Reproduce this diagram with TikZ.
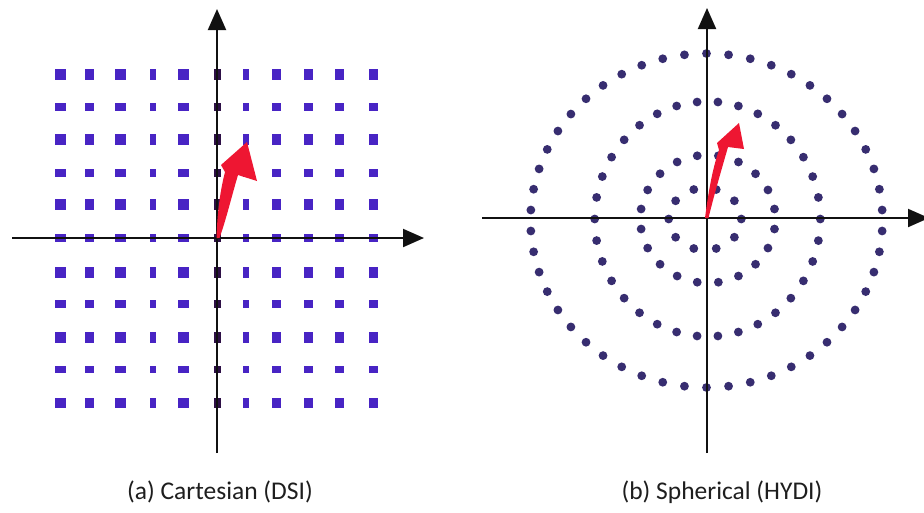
\documentclass[tikz,border=0pt]{standalone}
\usepackage{fontspec}
\setmainfont{Carlito}
\usetikzlibrary{arrows.meta}
\definecolor{gridblue}{RGB}{72,36,196}
\definecolor{griddark}{RGB}{45,15,70}
\definecolor{ringblue}{RGB}{55,45,112}
\definecolor{vecred}{RGB}{238,22,50}
\definecolor{axisblack}{RGB}{17,17,17}
\definecolor{captiongray}{RGB}{30,30,30}
\tikzset{
  axisline/.style={line width=2pt, draw=axisblack, -{Triangle[length=21pt,width=18pt]}},
  ringdot/.style={fill=ringblue},
  vector/.style={fill=vecred, draw=none},
  caption/.style={font=\fontsize{25.5}{30}\selectfont, text=captiongray, inner sep=0pt}
}
\begin{document}
\begin{tikzpicture}[x=1pt,y=-1pt]
\useasboundingbox (0,0) rectangle (924,512);
\fill[white] (0,0) rectangle (924,512);
% ---------- (a) Cartesian grid ----------
\foreach \cx/\w in {60/11, 89/9, 120/11, 153/6, 183/11, 246/6, 276/9, 308/9, 339/9, 373/9}{
  \foreach \cy/\h in {74/11, 107/8, 139/11, 173/8, 204/11, 238/8, 272/11, 304/8, 337/11, 369/7, 403/10}{
    \fill[gridblue] (\cx-\w/2,\cy-\h/2) rectangle (\cx+\w/2,\cy+\h/2);
  }
}
\foreach \cy/\h in {74/11, 107/8, 139/11, 173/8, 204/11, 238/8, 272/11, 304/8, 337/11, 369/7, 403/10}{
  \fill[griddark] (217-3.5,\cy-\h/2) rectangle (217+3.5,\cy+\h/2);
}
\coordinate (aO) at (217,238);
\coordinate (aL) at (12,238);
\coordinate (aR) at (424,238);
\coordinate (aB) at (217,453);
\coordinate (aT) at (217,9);
\draw[axisline] (aL) -- (aR);
\draw[axisline] (aB) -- (aT);
\fill[vector] (216.5,238) .. controls (217,220) and (219,195) .. (225,172)
  -- (221,165) -- (247,142) -- (257,181) -- (238,175)
  .. controls (232,195) and (226,220) .. (219.5,238) -- cycle;
\node[caption] (capa) at (220,492) {(a) Cartesian (DSI)};
% ---------- (b) Spherical shells ----------
\foreach \a in {0,...,49}{
  \fill[ringdot] ({706.5+176*cos(90+7.2*\a)},{220.5-167*sin(90+7.2*\a)}) circle (4.4);
}
\foreach \a in {0,...,33}{
  \fill[ringdot] ({707.5+112.8*cos(84.7+360/34*\a)},{219-117.5*sin(84.7+360/34*\a)}) circle (4.4);
}
\foreach \a in {0,...,19}{
  \fill[ringdot] ({707.8+67.5*cos(9+18*\a)},{219-64*sin(9+18*\a)}) circle (4.4);
}
\foreach \a in {0,...,9}{
  \fill[ringdot] ({705+36.3*cos(36*\a)},{219-31*sin(36*\a)}) circle (4.4);
}
\coordinate (bO) at (707,218);
\coordinate (bL) at (482,218);
\coordinate (bR) at (929,218);
\coordinate (bB) at (707,453);
\coordinate (bT) at (707,8);
\draw[axisline] (bL) -- (bR);
\draw[axisline] (bB) -- (bT);
\fill[vector] (705,218) .. controls (708,195) and (712,170) .. (719,150)
  -- (717,143) -- (739,123) -- (744,149) -- (728,147)
  .. controls (722,168) and (714,195) .. (708.5,218) -- cycle;
\node[caption] (capb) at (722,492) {(b) Spherical (HYDI)};
\end{tikzpicture}
\end{document}
